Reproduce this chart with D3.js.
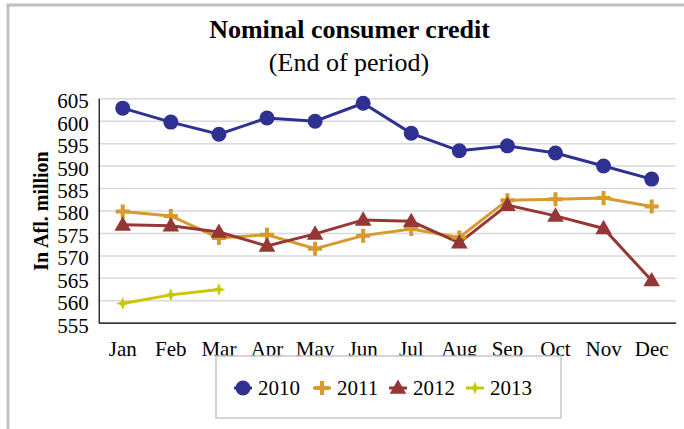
<!DOCTYPE html>
<html>
<head>
<meta charset="utf-8">
<script src="https://cdn.jsdelivr.net/npm/d3@7"></script>
<style>
  html, body { margin: 0; padding: 0; background: #fff; }
  svg { display: block; font-family: "Liberation Serif", "Times New Roman", serif; }
</style>
</head>
<body>
<svg id="chart" width="684" height="429"></svg>
<script>
const months = ["Jan","Feb","Mar","Apr","May","Jun","Jul","Aug","Sep","Oct","Nov","Dec"];
const yTicks = [555,560,565,570,575,580,585,590,595,600,605];
const seriesNames = ["2010","2011","2012","2013"];
const v2010 = [602.8,599.7,597.0,600.6,599.9,603.9,597.2,593.3,594.4,592.8,589.9,587.0];
const v2011 = [579.8,578.8,573.9,574.6,571.5,574.4,575.9,574.0,582.3,582.5,582.8,580.9];
const v2012 = [576.8,576.6,575.2,572.1,574.8,577.9,577.6,572.8,581.2,578.8,576.0,564.4];
const v2013 = [559.3,561.2,562.4];

const colors = {"2010":"#2E3192","2011":"#D69A2D","2012":"#953735","2013":"#C8C800"};
const data = [
  {name:"2010", values:v2010},
  {name:"2011", values:v2011},
  {name:"2012", values:v2012},
  {name:"2013", values:v2013}
];

const svg = d3.select("#chart");
const pLeft = 98.7, pRight = 675.7, pTop = 98.3, pBottom = 322.7;

// outer border
svg.append("rect").attr("x",8).attr("y",5).attr("width",720).attr("height",460)
  .attr("fill","#fff").attr("stroke","#c0c0c0").attr("stroke-width",3);

// titles
svg.append("text").attr("x",349.5).attr("y",38).attr("text-anchor","middle")
  .attr("font-size",26).attr("font-weight","bold").attr("fill","#000")
  .text("Nominal consumer credit");
svg.append("text").attr("x",349).attr("y",71).attr("text-anchor","middle")
  .attr("font-size",26).attr("fill","#000")
  .text("(End of period)");

const x = d3.scaleBand().domain(months).range([pLeft, pRight]).padding(0);
const xc = m => x(m) + x.bandwidth()/2;
const y = d3.scaleLinear().domain([555,605]).range([pBottom, pTop]);

// gridlines
const grid = svg.append("g").attr("transform",`translate(${pLeft},0)`)
  .call(d3.axisLeft(y).tickValues(yTicks).tickSize(-(pRight-pLeft)).tickFormat(""));
grid.select(".domain").remove();
grid.selectAll("line").attr("stroke","#d9d9d9").attr("stroke-width",1.5);

// y axis
const ya = svg.append("g").attr("transform",`translate(${pLeft},0)`)
  .call(d3.axisLeft(y).tickValues(yTicks).tickSize(0).tickPadding(10));
ya.select(".domain").attr("stroke","#000").attr("stroke-width",1.2);
ya.selectAll("text").attr("font-size",21).attr("font-family","Liberation Serif").attr("fill","#000").attr("dy","0.45em");

// x axis
const xa = svg.append("g").attr("transform",`translate(0,${pBottom})`)
  .call(d3.axisBottom(x).tickSize(0).tickPadding(18));
xa.select(".domain").attr("stroke","#000").attr("stroke-width",1.2);
xa.selectAll("text").attr("font-size",21).attr("font-family","Liberation Serif").attr("fill","#000");

// y title
svg.append("text").attr("transform","translate(48,211) rotate(-90)")
  .attr("text-anchor","middle").attr("font-size",20).attr("font-weight","bold")
  .text("In Afl. million");

// marker drawing
function star4(s){
  const a = s, b = s*0.28;
  return `M0,${-a}L${b},${-b}L${a},0L${b},${b}L0,${a}L${-b},${b}L${-a},0L${-b},${-b}Z`;
}
function drawMarker(g, name, cx, cy){
  const c = colors[name];
  if(name==="2010"){
    g.append("circle").attr("cx",cx).attr("cy",cy).attr("r",7.5).attr("fill",c);
  } else if(name==="2011"){
    g.append("path").attr("d",`M${cx-7},${cy}H${cx+7}M${cx},${cy-7}V${cy+7}`)
      .attr("stroke",c).attr("stroke-width",4).attr("fill","none");
  } else if(name==="2012"){
    g.append("path").attr("transform",`translate(${cx},${cy+1})`)
      .attr("d",d3.symbol().type(d3.symbolTriangle).size(120)()).attr("fill",c);
  } else {
    g.append("path").attr("transform",`translate(${cx},${cy})`)
      .attr("d",star4(6.5)).attr("fill",c);
  }
}

const line = d3.line().x((d,i)=>xc(months[i])).y(d=>y(d));
data.forEach(s=>{
  svg.append("path").datum(s.values).attr("d",line)
    .attr("fill","none").attr("stroke",colors[s.name]).attr("stroke-width",3);
});
data.forEach(s=>{
  const g = svg.append("g");
  s.values.forEach((v,i)=>drawMarker(g, s.name, xc(months[i]), y(v)));
});

// legend
svg.append("rect").attr("x",216).attr("y",356).attr("width",345).attr("height",62)
  .attr("fill","#fff").attr("stroke","#c8c8c8").attr("stroke-width",1.5);
const legX = [243,322,398,475];
seriesNames.forEach((n,i)=>{
  const g = svg.append("g");
  const cx = legX[i], cy = 388;
  g.append("line").attr("x1",cx-9).attr("x2",cx+9).attr("y1",cy).attr("y2",cy)
    .attr("stroke",colors[n]).attr("stroke-width",3);
  drawMarker(g, n, cx, cy);
  g.append("text").attr("x",cx+15).attr("y",cy+7).attr("font-size",21).text(n);
});
</script>
</body>
</html>
